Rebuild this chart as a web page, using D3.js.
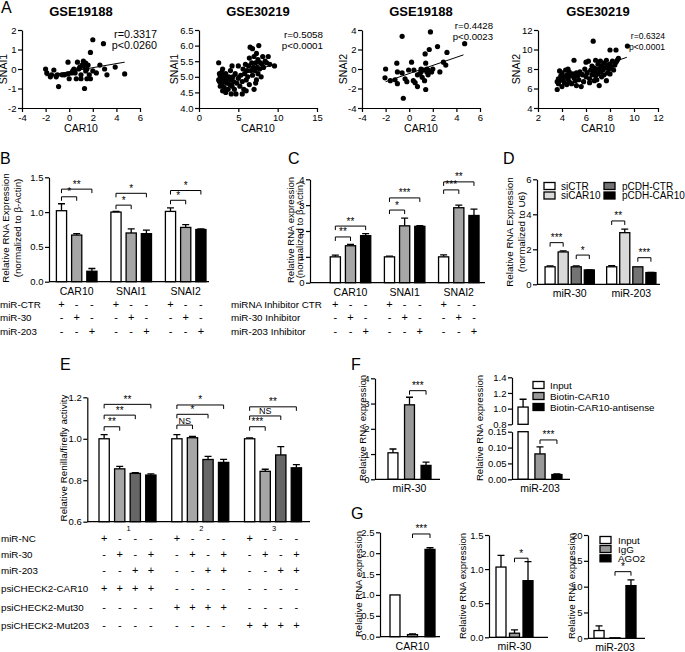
<!DOCTYPE html>
<html>
<head>
<meta charset="utf-8">
<script src="https://d3js.org/d3.v7.min.js"></script>
<style>
    body { margin: 0; background: #fff; }
    svg text { font-family: "Liberation Sans", Arial, sans-serif; fill: #000; }
    .axis path, .axis line { stroke: #000; stroke-width: 1.2px; }
    .axis text { font-size: 9.5px; font-family: "Liberation Sans", Arial, sans-serif; }
</style>
</head>
<body>
<div id="chart"></div>
<script>

// ---------- panel A: scatter data ----------
const scatterTitles = ["GSE19188", "GSE30219", "GSE19188", "GSE30219"];
const scatterYLabels = ["SNAI1", "SNAI1", "SNAI2", "SNAI2"];
const scatterStats = [["r=0.3317", "p<0.0260"], ["r=0.5058", "p<0.0001"],
                      ["r=0.4428", "p<0.0023"], ["r=0.6324", "p<0.0001"]];
const scatterXTicks = [[-4, -2, 0, 2, 4, 6], [0, 5, 10, 15], [-4, -2, 0, 2, 4, 6], [2, 4, 6, 8, 10, 12]];
const scatterYTicks = [[-2, -1, 0, 1, 2], [4.0, 4.5, 5.0, 5.5, 6.0, 6.5], [-4, -2, 0, 2, 4], [4, 6, 8, 10, 12]];

const gse19188Snai1 = [[-2.0,0.0],[-1.9,-0.2],[-1.6,-0.4],[-1.3,-0.05],[-1.1,-0.4],[-1.0,-0.3],[-0.9,-0.9],
  [-0.6,-0.3],[-0.4,-0.3],[-0.1,-0.25],[-0.1,0.35],[0.2,-0.2],[0.3,-0.1],[0.5,-0.2],[0.6,-0.5],[0.7,0.35],
  [0.8,0.0],[0.9,0.1],[1.0,-0.3],[1.1,0.2],[1.2,0.4],[1.3,0.1],[1.3,-1.0],[1.4,0.3],[1.4,-0.1],[1.5,0.0],
  [1.5,-0.5],[1.6,0.2],[1.7,-0.3],[1.8,0.85],[1.8,-0.5],[2.0,1.5],[2.0,-0.1],[2.3,-0.2],[2.6,0.2],[2.9,1.3],
  [3.0,0.0],[3.2,-0.3],[3.9,0.1],[4.7,-0.25],[0.0,-0.5],[1.0,-0.5],[-1.5,-0.3],[0.4,0.0]];
const gse30219Snai1 = [[2.5,5.45],[2.5,4.9],[2.6,5.1],[2.6,4.85],[2.7,5.0],[2.7,4.7],[2.8,4.95],[2.9,5.15],
  [2.9,4.75],[3.0,5.0],[3.0,4.55],[3.1,4.85],[3.2,5.05],[3.2,4.65],[3.3,4.9],[3.4,4.5],[3.4,5.1],[3.5,4.8],
  [3.6,4.95],[3.7,4.6],[3.8,5.0],[3.9,4.75],[4.0,4.9],[4.0,5.2],[4.1,4.45],[4.2,4.7],[4.3,5.0],[4.4,4.85],
  [4.5,4.6],[4.6,5.1],[4.7,4.45],[4.8,4.8],[5.0,4.95],[5.0,5.35],[5.2,4.7],[5.3,5.05],[5.5,4.85],[5.6,5.25],
  [5.7,4.6],[5.8,5.1],[5.9,5.4],[6.0,4.9],[6.1,5.2],[6.2,5.0],[6.3,5.35],[6.4,4.75],[6.4,5.6],[6.5,5.95],
  [6.6,5.2],[6.7,5.45],[6.8,5.9],[6.8,5.05],[6.9,5.3],[7.0,5.65],[7.0,4.6],[7.1,5.2],[7.2,5.45],[7.3,4.9],
  [7.3,5.75],[7.4,5.3],[7.5,5.1],[7.5,5.55],[7.6,6.0],[7.7,5.25],[7.8,5.45],[7.9,5.0],[8.0,5.4],[8.1,5.65],
  [8.2,5.3],[8.4,5.5],[8.6,5.45],[8.8,5.65],[9.0,5.4],[9.6,5.35],[7.2,4.8],[6.0,4.55],[5.5,4.45],[4.2,5.35],[3.0,5.25]];
const gse19188Snai2 = [[-2.0,0.0],[-2.05,-0.9],[-1.6,-1.2],[-1.2,-1.1],[-1.0,-0.3],[-1.05,0.6],[-0.6,3.35],
  [-0.6,-0.4],[-0.5,-3.0],[-0.35,-1.0],[-0.05,-0.1],[0.2,0.7],[0.35,-1.2],[0.5,-1.4],[0.7,-0.6],[1.0,0.0],
  [1.0,-0.3],[1.2,-0.1],[0.7,-1.8],[1.35,1.55],[1.4,0.6],[1.4,-2.1],[1.5,-0.3],[1.6,-0.6],[1.7,2.0],[1.8,3.8],
  [1.9,-0.3],[2.0,0.0],[2.4,2.3],[2.6,-0.3],[2.9,0.7],[3.1,0.4],[3.2,1.7],[4.7,2.6],[1.3,-1.2],[1.1,-0.85],
  [1.5,0.0],[0.4,-0.1],[-1.0,-1.5],[0.9,-0.5],[1.6,-0.1],[-0.2,-1.3]];
const gse30219Snai2 = [[3.6,5.9],[3.6,6.7],[3.7,7.0],[3.7,6.5],[3.8,7.8],[3.8,6.8],[3.9,7.3],[4.0,6.2],[4.0,7.6],
  [4.1,6.9],[4.2,7.2],[4.2,6.6],[4.3,7.9],[4.4,6.4],[4.4,7.4],[4.5,7.0],[4.6,6.7],[4.6,7.7],[4.7,7.3],[4.8,6.5],
  [4.9,7.5],[5.0,7.1],[5.0,8.9],[5.1,6.8],[5.2,7.6],[5.3,7.3],[5.4,6.9],[5.5,7.7],[5.6,6.2],[5.7,7.4],[5.8,6.7],
  [5.9,8.0],[6.0,7.2],[6.0,8.7],[6.1,7.6],[6.2,8.8],[6.3,7.0],[6.3,6.6],[6.4,7.9],[6.5,7.4],[6.5,8.3],[6.6,10.85],
  [6.6,7.7],[6.7,6.8],[6.7,8.1],[6.8,7.3],[6.8,8.9],[6.9,7.8],[6.9,6.9],[7.0,8.5],[7.0,7.5],[7.1,8.0],[7.1,6.3],
  [7.2,7.7],[7.2,8.8],[7.3,7.2],[7.3,8.3],[7.4,7.9],[7.5,8.6],[7.5,7.4],[7.6,8.1],[7.7,6.8],[7.7,8.9],[7.8,7.6],
  [7.8,8.4],[7.9,8.0],[8.0,9.95],[8.0,8.5],[8.0,7.5],[8.1,8.2],[8.2,8.8],[8.3,7.9],[8.4,8.4],[8.5,8.7],[8.5,9.95],
  [8.6,8.9],[8.7,9.1],[9.45,10.35],[4.5,8.0],[5.2,6.3]];
const scatterData = [gse19188Snai1, gse30219Snai1, gse19188Snai2, gse30219Snai2];
// fitted lines: [x1, y1, x2, y2]
const fitLines = [[-2.0,-0.35,4.7,0.35],[2.5,4.85,9.6,5.4],[-2.0,-1.3,4.6,1.45],[3.5,6.7,9.4,9.2]];

// ---------- panel B ----------
const bGenes = ["CAR10", "SNAI1", "SNAI2"];
const bRows = ["miR-CTR", "miR-30", "miR-203"];
const bMeans = [[1.02, 0.67, 0.15], [1.00, 0.70, 0.69], [1.01, 0.78, 0.75]];
const bErrs = [[0.10, 0.02, 0.04], [0.01, 0.06, 0.05], [0.05, 0.04, 0.01]];
const bSig = [[0, 0, 1, 1.22, "*"], [0, 0, 2, 1.33, "**"], [1, 0, 1, 1.10, "*"], [1, 0, 2, 1.27, "*"],
              [2, 0, 1, 1.17, "*"], [2, 0, 2, 1.31, "*"]];
const bcSigns = ["+--+--+--", "-+--+--+-", "--+--+--+"];

// ---------- panel C ----------
const cGenes = ["CAR10", "SNAI1", "SNAI2"];
const cRows = ["miRNA Inhibitor CTR", "miR-30 Inhibitor", "miR-203 Inhibitor"];
const cMeans = [[1.0, 1.43, 1.82], [1.0, 2.2, 2.18], [1.0, 2.9, 2.6]];
const cErrs = [[0.07, 0.05, 0.08], [0.03, 0.3, 0.03], [0.08, 0.1, 0.25]];
const cSig = [[0, 0, 1, 1.77, "**"], [0, 0, 2, 2.19, "**"], [1, 0, 1, 2.81, "*"], [1, 0, 2, 3.28, "***"],
              [2, 0, 1, 3.59, "***"], [2, 0, 2, 3.9, "**"]];

// ---------- panel D ----------
const dMirs = ["miR-30", "miR-203"];
const dSeries = ["siCTR", "siCAR10", "pCDH-CTR", "pCDH-CAR10"];
const dMeans = [[1.0, 1.85, 1.0, 0.82], [1.0, 2.95, 1.0, 0.67]];
const dErrs = [[0.05, 0.06, 0.05, 0.01], [0.06, 0.2, 0.0, 0.01]];
const dSig = [[0, 0, 1, 2.38, "***"], [0, 2, 3, 1.67, "*"], [1, 0, 1, 3.62, "**"], [1, 2, 3, 1.52, "***"]];

// ---------- panel E ----------
const eGroups = ["1", "2", "3"];
const eRows = ["miR-NC", "miR-30", "miR-203", "psiCHECK2-CAR10", "psiCHECK2-Mut30", "psiCHECK2-Mut203"];
const eSigns = ["+---+---+---", "-+-+-+-+-+-+", "--++--++--++", "++++--------", "----++++----", "--------++++"];
const eMeans = [[1.0, 0.855, 0.833, 0.825], [1.0, 1.005, 0.90, 0.886], [1.0, 0.843, 0.922, 0.86]];
const eErrs = [[0.02, 0.012, 0.004, 0.006], [0.02, 0.006, 0.015, 0.015], [0.004, 0.01, 0.04, 0.015]];
const eSig = [[0, 0, 1, 1.058, "**"], [0, 0, 2, 1.114, "**"], [0, 0, 3, 1.166, "**"],
              [1, 0, 1, 1.066, "NS"], [1, 0, 2, 1.118, "*"], [1, 0, 3, 1.163, "*"],
              [2, 0, 1, 1.058, "***"], [2, 0, 2, 1.11, "NS"], [2, 0, 3, 1.154, "**"]];

// ---------- panel F ----------
const fSeries = ["Input", "Biotin-CAR10", "Biotin-CAR10-antisense"];
const fMir30 = [1.05, 2.95, 0.55];
const fMir30Err = [0.15, 0.3, 0.13];
const fMir203 = [1.02, 0.08, 0.015];
const fMir203Err = [0.1, 0.022, 0.002];

// ---------- panel G ----------
const gSeries = ["Input", "IgG", "AGO2"];
const gCar10 = [1.0, 0.05, 2.09];
const gCar10Err = [0.0, 0.02, 0.04];
const gMir30 = [1.03, 0.06, 0.83];
const gMir30Err = [0.17, 0.05, 0.28];
const gMir203 = [1.5, 0.1, 10.2];
const gMir203Err = [0.9, 0.0, 1.1];

const svg = d3.select("#chart").append("svg").attr("width", 685).attr("height", 652);

function txt(x, y, s, size, anchor, weight) {
    return svg.append("text").attr("x", x).attr("y", y).attr("text-anchor", anchor || "start")
        .style("font-size", size + "px").style("font-weight", weight || "normal").text(s);
}
function vtxt(x, y, s, size) {
    return svg.append("text").attr("transform", "translate(" + x + "," + y + ") rotate(-90)")
        .attr("text-anchor", "middle").style("font-size", size + "px").text(s);
}
function yAxis(x, scale, ticks, fmt) {
    svg.append("g").attr("class", "axis").attr("transform", "translate(" + x + ",0)")
        .call(d3.axisLeft(scale).tickValues(ticks).tickSize(4).tickPadding(1.5).tickSizeOuter(0).tickFormat(fmt));
}
function hline(x1, x2, y) {
    svg.append("line").attr("x1", x1).attr("x2", x2).attr("y1", y).attr("y2", y)
        .attr("stroke", "#000").attr("stroke-width", 1.3);
}
function bracket(xa, xb, yy, label) {
    svg.append("path").attr("d", "M" + xa + "," + (yy + 4) + "V" + yy + "H" + xb + "V" + (yy + 4))
        .attr("fill", "none").attr("stroke", "#000").attr("stroke-width", 1);
    txt((xa + xb) / 2, yy - 1.5, label, label == "NS" ? 9 : 10, "middle");
}
function errBar(cx, y0, y1) {
    svg.append("path").attr("d", "M" + cx + "," + y0 + "V" + y1 + "M" + (cx - 3.5) + "," + y1 + "H" + (cx + 3.5))
        .attr("fill", "none").attr("stroke", "#000").attr("stroke-width", 1.3);
}
function bar(x, w, yTop, yBot, color) {
    svg.append("rect").attr("x", x).attr("y", yTop).attr("width", w).attr("height", Math.max(0, yBot - yTop))
        .attr("fill", color).attr("stroke", "#000").attr("stroke-width", 1.3);
}

// generic grouped bar panel
function barPanel(c) {
    const gx = d3.scalePoint().domain(c.groups).range(c.centers);
    const bx = d3.scaleBand().domain(d3.range(c.colors.length)).range([-c.span / 2, c.span / 2]).paddingInner(c.pad);
    const y = c.y, base = y.domain()[0], bw = bx.bandwidth();
    c.groups.forEach(function (grp, gi) {
        c.means[gi].forEach(function (v, i) {
            const x = gx(grp) + bx(i);
            if (c.errs[gi][i] > 0) errBar(x + bw / 2, y(v), y(v + c.errs[gi][i]));
            bar(x, bw, y(v), y(base), c.colors[i]);
        });
    });
    yAxis(c.axisX, y, c.ticks, c.fmt);
    hline(c.axisX, c.axisEnd, y(base));
    if (c.labels) c.groups.forEach(function (grp) { txt(gx(grp), y(base) + 13, grp, 10.5, "middle"); });
    c.sig.forEach(function (s) {
        const g0 = gx(c.groups[s[0]]);
        bracket(g0 + bx(s[1]) + bw / 2, g0 + bx(s[2]) + bw / 2, y(s[3]), s[4]);
    });
    return { gx: gx, bx: bx, bw: bw };
}
function signRows(p, groups, rows, signs, ys, lx) {
    const per = p.bx.domain().length;
    rows.forEach(function (r, ri) {
        txt(lx, ys[ri], r, 9.8, "start");
        signs[ri].split("").forEach(function (ch, k) {
            const grp = groups[Math.floor(k / per)], i = k % per;
            txt(p.gx(grp) + p.bx(i) + p.bw / 2, ys[ri], ch, 11, "middle");
        });
    });
}
function legend(x, ys, names, colors, tx, size) {
    names.forEach(function (n, i) {
        svg.append("rect").attr("x", x).attr("y", ys[i] - 3.5).attr("width", 11).attr("height", 7)
            .attr("fill", colors[i]).attr("stroke", "#000").attr("stroke-width", 1.3);
        txt(tx, ys[i] + 3.5, n, size, "start");
    });
}

// ---------- A ----------
txt(1, 13, "A", 16, "start");
const frames = [[22, 140], [199, 317], [362, 480], [538, 658]];
const xDomains = [[-4, 6], [0, 15], [-4, 6], [2, 12]];
const yDomains = [[-2, 2], [4, 6.5], [-4, 4], [4, 12]];
const statRight = [157, 323, 493, 665];
const statBase = [[38, 49], [38, 49], [29, 40], [38.5, 49.5]];
const statSize = [10.8, 9.8, 9.6, 8.6];
const yLabelX = [7, 178, 347, 520];
frames.forEach(function (f, k) {
    const x = d3.scaleLinear().domain(xDomains[k]).range(f);
    const y = d3.scaleLinear().domain(yDomains[k]).range([108, 30]);
    const yf = k == 1 ? d3.format(".1f") : function (d) { return String(d); };
    svg.append("g").attr("class", "axis").attr("transform", "translate(0,108)")
        .call(d3.axisBottom(x).tickValues(scatterXTicks[k]).tickSize(4).tickPadding(2).tickSizeOuter(0)
            .tickFormat(function (d) { return String(d); }));
    yAxis(f[0], y, scatterYTicks[k], yf);
    svg.append("g").selectAll("circle").data(scatterData[k]).enter().append("circle")
        .attr("cx", function (d) { return x(d[0]); }).attr("cy", function (d) { return y(d[1]); })
        .attr("r", 2.6).attr("fill", "#000");
    const L = fitLines[k];
    svg.append("line").attr("x1", x(L[0])).attr("y1", y(L[1])).attr("x2", x(L[2])).attr("y2", y(L[3]))
        .attr("stroke", "#000").attr("stroke-width", 1);
    const cx = (f[0] + f[1]) / 2;
    txt(cx, 16, scatterTitles[k], 13, "middle", "bold");
    txt(cx, 132, "CAR10", 10.5, "middle");
    vtxt(yLabelX[k], 69, scatterYLabels[k], 10.5);
    txt(statRight[k], statBase[k][0], scatterStats[k][0], statSize[k], "end");
    txt(statRight[k], statBase[k][1], scatterStats[k][1], statSize[k], "end");
});

// ---------- B ----------
txt(0, 164, "B", 16, "start");
const pB = barPanel({
    groups: bGenes, centers: [76.7, 185.7], span: 40.6, pad: 0.33,
    colors: ["#fff", "#a6a6a6", "#000"], means: bMeans, errs: bErrs,
    y: d3.scaleLinear().domain([0, 1.5]).range([281.7, 177.3]), axisX: 49, axisEnd: 209,
    ticks: [0, 0.5, 1.0, 1.5], fmt: d3.format(".1f"), sig: bSig, labels: true
});
vtxt(9, 228, "Relative RNA Expression", 9.8);
vtxt(20.5, 228, "(normalized to \u03b2-Actin)", 9.8);
signRows(pB, bGenes, bRows, bcSigns, [308, 321, 335], 0);

// ---------- C ----------
txt(288, 164, "C", 16, "start");
const pC = barPanel({
    groups: cGenes, centers: [350.5, 458.8], span: 40.5, pad: 0.33,
    colors: ["#fff", "#a6a6a6", "#000"], means: cMeans, errs: cErrs,
    y: d3.scaleLinear().domain([0, 4]).range([282.7, 179.3]), axisX: 310, axisEnd: 485,
    ticks: [0, 1, 2, 3, 4], fmt: d3.format("d"), sig: cSig, labels: true
});
vtxt(294, 230, "Relative RNA expression", 9.6);
vtxt(302.5, 230, "(normalized to \u03b2-Actin)", 9.6);
signRows(pC, cGenes, cRows, bcSigns, [308, 321, 335], 231);

// ---------- D ----------
txt(503, 164, "D", 16, "start");
barPanel({
    groups: dMirs, centers: [569.7, 631.3], span: 49.3, pad: 0.23,
    colors: ["#fff", "#d9d9d9", "#737373", "#000"], means: dMeans, errs: dErrs,
    y: d3.scaleLinear().domain([0, 6]).range([284.3, 179.3]), axisX: 537, axisEnd: 660,
    ticks: [0, 2, 4, 6], fmt: d3.format("d"), sig: dSig, labels: true
});
vtxt(512.5, 232, "Relative RNA Expression", 9.8);
vtxt(524.5, 232, "(normalized to U6)", 9.8);
legend(544, [186, 195.5], dSeries.slice(0, 2), ["#fff", "#d9d9d9"], 561, 10);
legend(604, [186, 195.5], dSeries.slice(2), ["#737373", "#000"], 622, 10);

// ---------- E ----------
txt(60, 370, "E", 16, "start");
const pE = barPanel({
    groups: eGroups, centers: [127.5, 273], span: 57, pad: 0.34,
    colors: ["#fff", "#a6a6a6", "#666", "#000"], means: eMeans, errs: eErrs,
    y: d3.scaleLinear().domain([0.6, 1.2]).range([521.7, 397.3]), axisX: 87.3, axisEnd: 310,
    ticks: [0.6, 0.8, 1.0, 1.2], fmt: d3.format(".1f"), sig: eSig, labels: false
});
eGroups.forEach(function (g) { txt(pE.gx(g) + 1, 531, g, 7.5, "middle"); });
vtxt(67, 458, "Relative Renilla/firefly activity", 9.8);
signRows(pE, eGroups, eRows, eSigns, [542, 557.5, 574, 592, 611, 629], 1);

// ---------- F ----------
txt(351, 370, "F", 16, "start");
barPanel({
    groups: ["miR-30"], centers: [409.5, 409.5], span: 43, pad: 0.4,
    colors: ["#fff", "#999", "#000"], means: [fMir30], errs: [fMir30Err],
    y: d3.scaleLinear().domain([0, 4]).range([479.3, 378.3]), axisX: 375, axisEnd: 440,
    ticks: [0, 1, 2, 3, 4], fmt: d3.format("d"), sig: [[0, 1, 2, 3.51, "***"]], labels: true
});
vtxt(366, 428, "Relative RNA expression", 9.6);

// broken axis panel (miR-203)
const fColors = ["#fff", "#999", "#000"];
const yLo = d3.scaleLinear().domain([0, 0.15]).range([479.3, 431.7]);
const yHi = d3.scaleLinear().domain([0.8, 1.4]).range([424.3, 377.3]);
const fx = d3.scaleBand().domain(d3.range(3)).range([518, 562]).paddingInner(0.4);
fMir203.forEach(function (v, i) {
    const x = fx(i), w = fx.bandwidth(), cx = x + w / 2, e = fMir203Err[i];
    if (v > 0.15) {
        bar(x, w, yLo(0.15), yLo(0), fColors[i]);
        errBar(cx, yHi(v), yHi(v + e));
        bar(x, w, yHi(v), yHi(0.8), fColors[i]);
    } else {
        errBar(cx, yLo(v), yLo(v + e));
        bar(x, w, yLo(v), yLo(0), fColors[i]);
    }
});
yAxis(512, yLo, [0, 0.05, 0.10, 0.15], d3.format(".2f"));
yAxis(512, yHi, [0.8, 1.0, 1.2, 1.4], d3.format(".1f"));
hline(512, 570, yLo(0));
txt(540, 492, "miR-203", 10.5, "middle");
bracket(fx(1) + fx.bandwidth() / 2, fx(2) + fx.bandwidth() / 2, yLo(0.124), "***");
vtxt(483, 428, "Relative RNA expression", 9.6);
legend(533, [385, 396, 407], fSeries, fColors, 550, 9.8);

// ---------- G ----------
txt(351, 519, "G", 16, "start");
barPanel({
    groups: ["CAR10"], centers: [412.5, 412.5], span: 45, pad: 0.43,
    colors: ["#fff", "#999", "#000"], means: [gCar10], errs: [gCar10Err],
    y: d3.scaleLinear().domain([0, 2.5]).range([636.7, 532.3]), axisX: 380, axisEnd: 440,
    ticks: [0, 0.5, 1.0, 1.5, 2.0, 2.5], fmt: d3.format(".1f"), sig: [[0, 1, 2, 2.46, "***"]], labels: true
});
vtxt(362, 584, "Relative RNA expression", 9.6);
barPanel({
    groups: ["miR-30"], centers: [514.5, 514.5], span: 37, pad: 0.26,
    colors: ["#fff", "#999", "#000"], means: [gMir30], errs: [gMir30Err],
    y: d3.scaleLinear().domain([0, 1.5]).range([637.3, 535]), axisX: 489, axisEnd: 548,
    ticks: [0, 0.5, 1.0, 1.5], fmt: d3.format(".1f"), sig: [[0, 1, 2, 1.16, "*"]], labels: true
});
vtxt(466, 586, "Relative RNA expression", 9.6);
barPanel({
    groups: ["miR-203"], centers: [615, 615], span: 42, pad: 0.37,
    colors: ["#fff", "#999", "#000"], means: [gMir203], errs: [gMir203Err],
    y: d3.scaleLinear().domain([0, 20]).range([638.3, 535]), axisX: 588, axisEnd: 645,
    ticks: [0, 5, 10, 15, 20], fmt: d3.format("d"), sig: [[0, 1, 2, 12.9, "*"]], labels: true
});
vtxt(575, 586, "Relative RNA expression", 9.6);
legend(600, [540, 549, 558.3], gSeries, ["#fff", "#999", "#000"], 618, 9.8);

</script>
</body>
</html>
